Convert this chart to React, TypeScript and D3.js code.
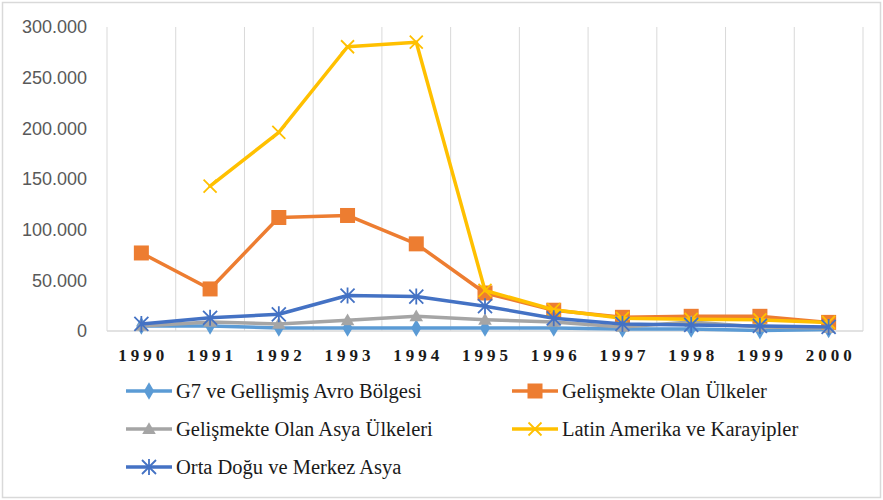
import React from "react";
import * as d3 from "d3";

const years = ["1990","1991","1992","1993","1994","1995","1996","1997","1998","1999","2000"];
const yTicks = [0, 50000, 100000, 150000, 200000, 250000, 300000];

const g7 = [5000, 5000, 3000, 3000, 3000, 3000, 3000, 2000, 2000, 500, 1500];
const gelismekte = [77000, 41500, 112000, 114000, 86000, 37500, 20500, 13500, 14500, 14500, 8500];
const asya = [5000, 9000, 7000, 10500, 14500, 11000, 9000, 4000, 9000, 4000, 3000];
const latin: (number | null)[] = [null, 143000, 196000, 280500, 285000, 40000, 21000, 12500, 11500, 11000, 8500];
const ortaDogu = [7000, 13000, 16500, 35000, 34000, 24500, 12500, 7000, 6000, 5000, 4000];

const seriesNames = [
  "G7 ve Gellişmiş Avro Bölgesi",
  "Gelişmekte Olan Ülkeler",
  "Gelişmekte Olan Asya Ülkeleri",
  "Latin Amerika ve Karayipler",
  "Orta Doğu ve Merkez Asya",
];
const seriesColors = ["#5B9BD5", "#ED7D31", "#A5A5A5", "#FFC000", "#4472C4"];
const seriesMarkers = ["diamond", "square", "triangle", "x", "star"];
const seriesValues: (number | null)[][] = [g7, gelismekte, asya, latin, ortaDogu];

const SERIF = "Liberation Serif";
const SANS = '"Liberation Sans", Arial, sans-serif';

const fmt = (v: number) => (v === 0 ? "0" : d3.format(",")(v).replace(/,/g, "."));

function Marker({ type, x, y, color }: { type: string; x: number; y: number; color: string }) {
  if (type === "diamond") {
    const p = d3.symbol(d3.symbolDiamond, 90)();
    return <path d={p!} transform={`translate(${x},${y})`} fill={color} />;
  }
  if (type === "square") {
    return <rect x={x - 7.5} y={y - 7.5} width={15} height={15} fill={color} />;
  }
  if (type === "triangle") {
    const p = d3.symbol(d3.symbolTriangle, 80)();
    return <path d={p!} transform={`translate(${x},${y + 1})`} fill={color} />;
  }
  if (type === "x") {
    const r = 6.5;
    return (
      <path
        d={`M${x - r},${y - r}L${x + r},${y + r}M${x - r},${y + r}L${x + r},${y - r}`}
        stroke={color}
        strokeWidth={1.8}
        fill="none"
      />
    );
  }
  const r = 7;
  return (
    <path
      d={`M${x - r},${y - r}L${x + r},${y + r}M${x - r},${y + r}L${x + r},${y - r}M${x},${y - r - 1}L${x},${y + r + 1}`}
      stroke={color}
      strokeWidth={1.8}
      fill="none"
    />
  );
}

export default function App() {
  const W = 883, H = 500;
  const x = d3.scaleBand<string>().domain(years).range([107, 863]).paddingInner(0).paddingOuter(0);
  const y = d3.scaleLinear().domain([0, 300000]).range([331, 27]);
  const cx = (yr: string) => (x(yr) as number) + x.bandwidth() / 2;
  const line = d3
    .line<number | null>()
    .defined((d) => d !== null)
    .x((_, i) => cx(years[i]))
    .y((d) => y(d as number));

  const gridXs = years.map((yr) => x(yr) as number).concat([863]);

  const legendPos = [
    { lx: 126, row: 391 },
    { lx: 512, row: 391 },
    { lx: 126, row: 429 },
    { lx: 512, row: 429 },
    { lx: 126, row: 467 },
  ];

  return (
    <svg width={W} height={H} style={{ position: "absolute", left: 0, top: 0 }}>
      <rect x={0} y={0} width={W} height={H} fill="#fff" />
      <rect x={2.5} y={2.5} width={W - 5} height={H - 5} fill="none" stroke="#d9d9d9" strokeWidth={1.5} />
      {gridXs.map((gx, i) => (
        <line key={i} x1={gx} x2={gx} y1={y(300000)} y2={y(0)} stroke="#d9d9d9" strokeWidth={1} />
      ))}
      <line x1={107} x2={863} y1={y(0)} y2={y(0)} stroke="#d9d9d9" strokeWidth={1.5} />
      {yTicks.map((t) => (
        <text key={t} x={87} y={y(t)} dy="0.35em" textAnchor="end" fontFamily={SANS} fontSize={18} fill="#595959">
          {fmt(t)}
        </text>
      ))}
      {years.map((yr) => (
        <text
          key={yr}
          x={cx(yr) + 2}
          y={361}
          textAnchor="middle"
          fontFamily={SERIF}
          fontSize={17}
          fontWeight="bold"
          letterSpacing={4}
          fill="#1a1a1a"
        >
          {yr}
        </text>
      ))}
      {seriesValues.map((vals, si) => (
        <g key={si}>
          <path d={line(vals)!} fill="none" stroke={seriesColors[si]} strokeWidth={3.5} strokeLinejoin="round" strokeLinecap="round" />
          {vals.map((v, i) =>
            v === null ? null : (
              <Marker key={i} type={seriesMarkers[si]} x={cx(years[i])} y={y(v)} color={seriesColors[si]} />
            )
          )}
        </g>
      ))}
      {seriesNames.map((name, si) => {
        const p = legendPos[si];
        return (
          <g key={name}>
            <line x1={p.lx} x2={p.lx + 46} y1={p.row} y2={p.row} stroke={seriesColors[si]} strokeWidth={3.5} />
            <Marker type={seriesMarkers[si]} x={p.lx + 23} y={p.row} color={seriesColors[si]} />
            <text x={p.lx + 50} y={p.row} dy="0.33em" fontFamily={SERIF} fontSize={20.5} fill="#1a1a1a">
              {name}
            </text>
          </g>
        );
      })}
    </svg>
  );
}
